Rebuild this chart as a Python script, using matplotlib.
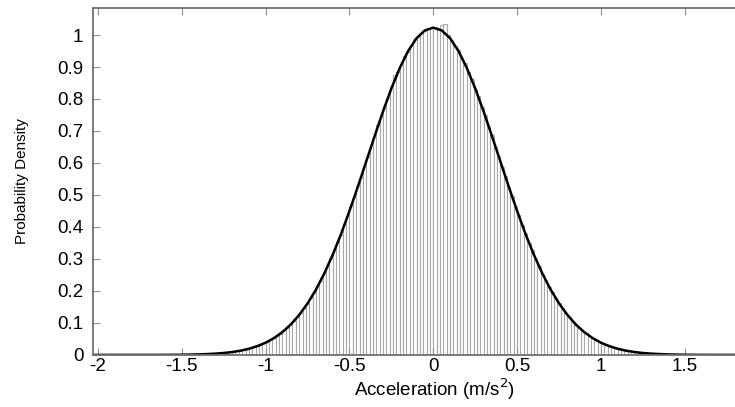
import numpy as np
import matplotlib
matplotlib.use("Agg")
import matplotlib.pyplot as plt

plt.rcParams['font.family'] = ['Liberation Sans', 'DejaVu Sans']

# histogram: bin width 0.02, left edges from -1.40 to 1.38
bin_width = 0.02
bin_left = np.round(np.arange(-70, 70) * bin_width, 2)
bar_heights = [
    0.0016, 0.0022, 0.0025, 0.0032, 0.0035, 0.0044, 0.0050, 0.0062, 0.0070, 0.0085,
    0.0096, 0.0116, 0.0131, 0.0156, 0.0176, 0.0209, 0.0235, 0.0277, 0.0310, 0.0362,
    0.0404, 0.0470, 0.0522, 0.0601, 0.0666, 0.0764, 0.0843, 0.0960, 0.1055, 0.1195,
    0.1305, 0.1470, 0.1598, 0.1790, 0.1938, 0.2155, 0.2325, 0.2570, 0.2760, 0.3030,
    0.3240, 0.3540, 0.3760, 0.4090, 0.4330, 0.4670, 0.4930, 0.5280, 0.5550, 0.5910,
    0.6180, 0.6550, 0.6810, 0.7180, 0.7430, 0.7790, 0.8020, 0.8360, 0.8740, 0.8830,
    0.9060, 0.9350, 0.9480, 0.9700, 0.9890, 0.9940, 1.0050, 1.0130, 1.0180, 1.0210,
    1.0240, 1.0180, 1.0300, 1.0330, 0.9990, 0.9850, 0.9660, 0.9530, 0.9290, 0.9110,
    0.8830, 0.8620, 0.8310, 0.8080, 0.7740, 0.7490, 0.7140, 0.6870, 0.6500, 0.6230,
    0.5870, 0.5600, 0.5240, 0.4980, 0.4630, 0.4380, 0.4050, 0.3810, 0.3500, 0.3280,
    0.2990, 0.2790, 0.2540, 0.2350, 0.2130, 0.1960, 0.1770, 0.1620, 0.1450, 0.1325,
    0.1180, 0.1070, 0.0945, 0.0856, 0.0752, 0.0678, 0.0591, 0.0531, 0.0461, 0.0411,
    0.0355, 0.0316, 0.0271, 0.0239, 0.0204, 0.0180, 0.0152, 0.0134, 0.0112, 0.0098,
    0.0082, 0.0072, 0.0059, 0.0052, 0.0042, 0.0037, 0.0030, 0.0026, 0.0020, 0.0018,
]

# fitted density curve, sampled every 0.05 from -2.05 to 2.05
curve_x = np.round(np.arange(-41, 42) * 0.05, 2)
curve_y = [
    0, 0, 0, 0, 0, 0, 0, 0, 0,
    0.0002, 0.0004, 0.0006, 0.0010, 0.0016, 0.0026, 0.0040, 0.0060, 0.0090, 0.0132,
    0.0192, 0.0273, 0.0382, 0.0527, 0.0714, 0.0951, 0.125, 0.161, 0.204, 0.255,
    0.313, 0.378, 0.450, 0.526, 0.605, 0.684, 0.761, 0.833, 0.897, 0.950,
    0.990, 1.0145,
    1.023,
    1.0145, 0.990, 0.950, 0.897, 0.833, 0.761, 0.684, 0.605, 0.526, 0.450,
    0.378, 0.313, 0.255, 0.204, 0.161, 0.125, 0.0951, 0.0714, 0.0527, 0.0382,
    0.0273, 0.0192, 0.0132, 0.0090, 0.0060, 0.0040, 0.0026, 0.0016, 0.0010, 0.0006,
    0.0004, 0.0002,
    0, 0, 0, 0, 0, 0, 0, 0, 0,
]

x_ticks = [-2, -1.5, -1, -0.5, 0, 0.5, 1, 1.5]
x_tick_labels = ["-2", "-1.5", "-1", "-0.5", "0", "0.5", "1", "1.5"]
y_ticks = [0, 0.1, 0.2, 0.3, 0.4, 0.5, 0.6, 0.7, 0.8, 0.9, 1]
y_tick_labels = ["0", "0.1", "0.2", "0.3", "0.4", "0.5", "0.6", "0.7", "0.8", "0.9", "1"]

fig = plt.figure(figsize=(7.35, 4.07), dpi=100)
# the axes run past the right edge of the picture, as in the cropped original
ax = fig.add_axes([0.1265, 0.128, 0.9306, 0.852])

ax.bar(bin_left, bar_heights, width=bin_width, align='edge',
       facecolor='white', edgecolor='#a8a8a8', linewidth=0.8)
ax.plot(curve_x, curve_y, color='black', linewidth=1.8)

ax.set_xlim(-2.03, 2.05)
ax.set_ylim(0, 1.084)
ax.set_xticks(x_ticks)
ax.set_xticklabels(x_tick_labels)
ax.set_yticks(y_ticks)
ax.set_yticklabels(y_tick_labels)

ax.tick_params(direction='in', length=5, color='#909090', labelsize=13.5,
               top=True, right=False)
ax.tick_params(axis='x', pad=2)
ax.tick_params(axis='y', pad=7)

for side in ['top', 'left', 'bottom']:
    ax.spines[side].set_color('#707070')
    ax.spines[side].set_linewidth(1.3)
ax.spines['right'].set_visible(False)

ax.set_xlabel("Acceleration (m/s$^2$)", fontsize=13.5, labelpad=1)
ax.set_ylabel("Probability Density", fontsize=11, labelpad=20)

fig.savefig("out.png", dpi=100)
